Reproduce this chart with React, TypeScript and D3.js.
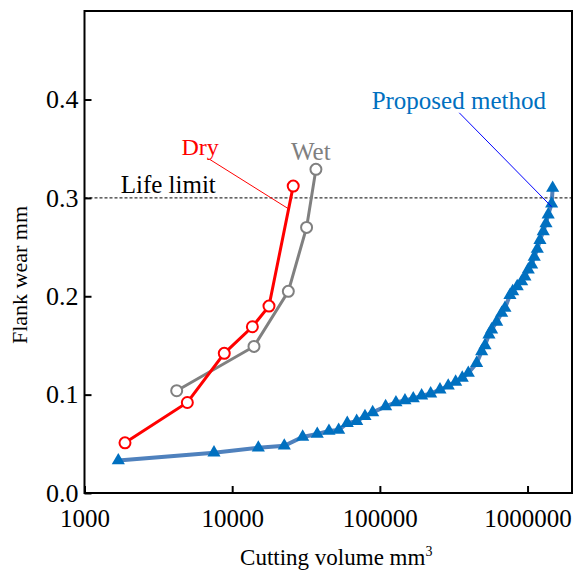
import React, { useEffect, useRef } from 'react';
import * as d3 from 'd3';

// Dry cutting
const dryVolume = [1880, 4970, 8840, 13700, 17750, 25900];
const dryWear = [0.051, 0.092, 0.142, 0.169, 0.19, 0.312];

// Wet cutting
const wetVolume = [4210, 14050, 24000, 31900, 36900];
const wetWear = [0.104, 0.149, 0.205, 0.27, 0.329];

// Proposed method
const propVolume = [
  1694, 7530, 15030, 22540, 30010, 37680, 45220, 52600, 60150, 69660,
  79290, 89400, 109400, 128500, 147900, 168300, 191800, 220800, 255300, 290400,
  326000, 361300, 397000, 452000, 489000, 515000, 548000, 571000, 618000, 668000,
  703000, 760000, 793000, 851000, 912000, 960000, 1011000, 1066000, 1110000, 1164000,
  1213000, 1277000, 1333000, 1380000, 1456000, 1479000,
];
const propWear = [
  0.033, 0.041, 0.046, 0.048, 0.057, 0.06, 0.063, 0.064, 0.071, 0.073,
  0.078, 0.082, 0.088, 0.092, 0.094, 0.096, 0.099, 0.101, 0.105, 0.109,
  0.113, 0.117, 0.122, 0.132, 0.144, 0.15, 0.161, 0.166, 0.174, 0.183,
  0.188, 0.201, 0.205, 0.21, 0.215, 0.22, 0.227, 0.232, 0.24, 0.248,
  0.257, 0.266, 0.274, 0.283, 0.294, 0.31,
];

const xTicks = [1000, 10000, 100000, 1000000];
const yTicks = [0, 0.1, 0.2, 0.3, 0.4];
const lifeLimit = 0.3;

const FONT = '"Liberation Serif", "Times New Roman", serif';

const App = () => {
  const svgRef = useRef(null);

  useEffect(() => {
    const svg = d3.select(svgRef.current);
    svg.selectAll('*').remove();
    const width = 574;
    const height = 576;
    const margin = { top: 11, right: 2, bottom: 83, left: 84.5 };

    const x = d3.scaleLog().domain([1000, 2000000]).range([margin.left, width - margin.right]);
    const y = d3.scaleLinear().domain([0, 0.49]).range([height - margin.bottom, margin.top]);

    const x0 = margin.left;
    const x1 = width - margin.right;
    const y0 = height - margin.bottom;
    const y1 = margin.top;

    // life limit
    svg.append('line')
      .attr('x1', x0).attr('x2', x1)
      .attr('y1', y(lifeLimit)).attr('y2', y(lifeLimit))
      .attr('stroke', '#000').attr('stroke-width', 1)
      .attr('stroke-dasharray', '3,2');

    const line = d3.line()
      .x(d => x(d[0]))
      .y(d => y(d[1]));

    const prop = propVolume.map((v, i) => [v, propWear[i]]);
    const dry = dryVolume.map((v, i) => [v, dryWear[i]]);
    const wet = wetVolume.map((v, i) => [v, wetWear[i]]);

    svg.append('path').datum(prop)
      .attr('fill', 'none').attr('stroke', '#4f81bd').attr('stroke-width', 4)
      .attr('d', line);
    svg.append('g').selectAll('path').data(prop).join('path')
      .attr('d', d3.symbol().type(d3.symbolTriangle).size(75))
      .attr('transform', d => `translate(${x(d[0])},${y(d[1])})`)
      .attr('fill', '#0070c0');

    svg.append('path').datum(wet)
      .attr('fill', 'none').attr('stroke', '#808080').attr('stroke-width', 3)
      .attr('d', line);
    svg.append('g').selectAll('circle').data(wet).join('circle')
      .attr('cx', d => x(d[0])).attr('cy', d => y(d[1])).attr('r', 5.5)
      .attr('fill', '#fff').attr('stroke', '#808080').attr('stroke-width', 2);

    svg.append('path').datum(dry)
      .attr('fill', 'none').attr('stroke', '#ff0000').attr('stroke-width', 3)
      .attr('d', line);
    svg.append('g').selectAll('circle').data(dry).join('circle')
      .attr('cx', d => x(d[0])).attr('cy', d => y(d[1])).attr('r', 5.5)
      .attr('fill', '#fff').attr('stroke', '#ff0000').attr('stroke-width', 2);

    // annotations
    svg.append('line')
      .attr('x1', x(7070)).attr('y1', y(0.339))
      .attr('x2', x(24000)).attr('y2', y(0.289))
      .attr('stroke', '#ff0000').attr('stroke-width', 1);
    svg.append('line')
      .attr('x1', x(344900)).attr('y1', y(0.3865))
      .attr('x2', x(1456000)).attr('y2', y(0.291))
      .attr('stroke', '#0000ff').attr('stroke-width', 1);

    const label = (text, vx, vy, color, size) =>
      svg.append('text')
        .attr('x', x(vx)).attr('y', y(vy))
        .attr('font-family', FONT).attr('font-size', size)
        .attr('fill', color).text(text);
    label('Dry', 4540, 0.3435, '#ff0000', 24);
    label('Wet', 25000, 0.339, '#808080', 25);
    label('Life limit', 1758, 0.305, '#000', 25);
    label('Proposed method', 87980, 0.39, '#0070c0', 25);

    // frame
    svg.append('rect')
      .attr('x', x0).attr('y', y1)
      .attr('width', x1 - x0).attr('height', y0 - y1)
      .attr('fill', 'none').attr('stroke', '#000').attr('stroke-width', 2);

    const xAxis = svg.append('g')
      .attr('transform', `translate(0,${y0})`)
      .call(d3.axisBottom(x).tickValues(xTicks).tickFormat(d3.format('d')).tickSizeInner(-7).tickSizeOuter(0).tickPadding(16));
    xAxis.select('.domain').remove();
    xAxis.selectAll('line').attr('stroke', '#000').attr('stroke-width', 2);
    xAxis.selectAll('text').attr('font-family', FONT).attr('font-size', 25).attr('fill', '#000');

    const yAxis = svg.append('g')
      .attr('transform', `translate(${x0},0)`)
      .call(d3.axisLeft(y).tickValues(yTicks).tickFormat(d3.format('.1f')).tickSizeInner(-7).tickSizeOuter(0).tickPadding(6));
    yAxis.select('.domain').remove();
    yAxis.selectAll('line').attr('stroke', '#000').attr('stroke-width', 2);
    yAxis.selectAll('text').attr('font-family', FONT).attr('font-size', 26).attr('fill', '#000');

    const xt = svg.append('text')
      .attr('x', (x0 + x1) / 2 + 8).attr('y', 565)
      .attr('text-anchor', 'middle')
      .attr('font-family', FONT).attr('font-size', 23).attr('fill', '#000');
    xt.append('tspan').text('Cutting volume mm');
    xt.append('tspan').attr('dy', -9).attr('font-size', 14).text('3');

    svg.append('text')
      .attr('transform', `translate(27,275) rotate(-90)`)
      .attr('text-anchor', 'middle')
      .attr('font-family', FONT).attr('font-size', 22).attr('fill', '#000')
      .text('Flank wear mm');
  }, []);

  return (
    <svg ref={svgRef} width={574} height={576}
      style={{ position: 'absolute', left: 0, top: 0, background: '#fff' }} />
  );
};

export default App;
